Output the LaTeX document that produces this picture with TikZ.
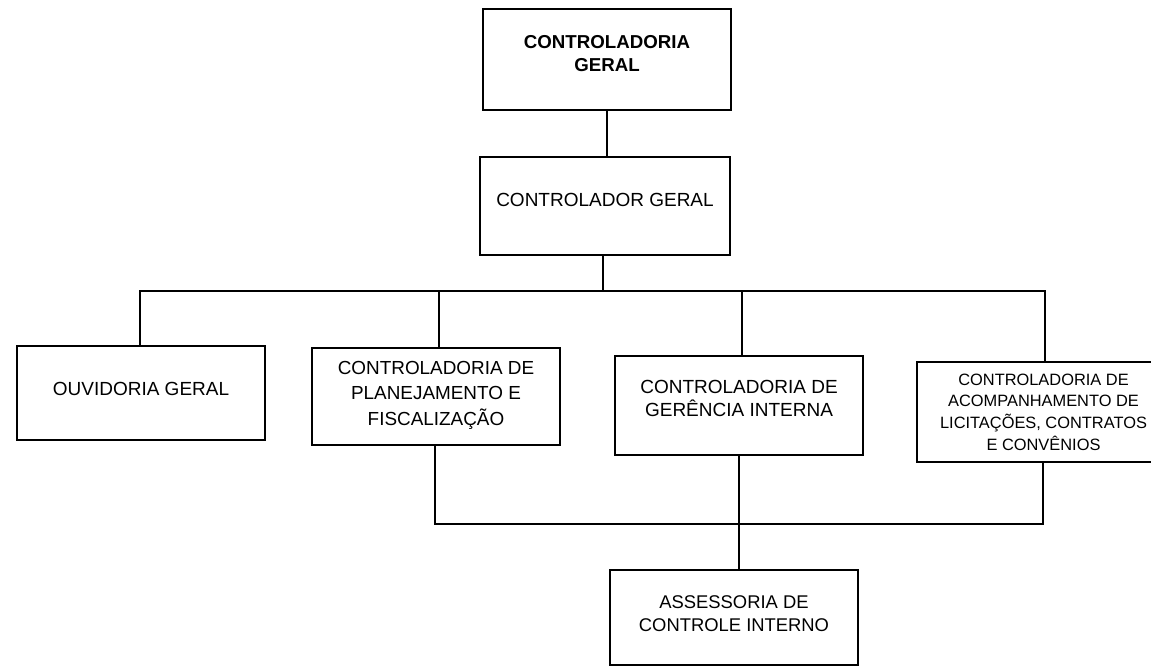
\documentclass[tikz,border=0pt]{standalone}
\usepackage{fontspec}
\setmainfont{Liberation Sans}
\begin{document}
\begin{tikzpicture}[x=1pt,y=-1pt,
  box/.style={draw, line width=1.6pt, align=center, inner sep=0pt,
    font=\fontsize{19}{24}\selectfont},
  conn/.style={line width=1.6pt}]
\useasboundingbox (0,0) rectangle (1151,667);
\fill[white] (0,0) rectangle (1151,667);

\node[box, minimum width=248pt, minimum height=101pt,
  font=\bfseries\fontsize{18.7}{23.5}\selectfont, text depth=12pt] (cg) at (607,59.5) {CONTROLADORIA\\GERAL};
\node[box, minimum width=250pt, minimum height=98pt, text depth=12pt] (ctrl) at (605,206) {CONTROLADOR GERAL};
\node[box, minimum width=248pt, minimum height=94pt, text depth=8pt] (ouv) at (141,393) {OUVIDORIA GERAL};
\node[box, minimum width=248pt, minimum height=97pt,
  font=\fontsize{18.9}{25.5}\selectfont, text depth=7pt] (plan) at (436,396.5) {CONTROLADORIA DE\\PLANEJAMENTO E\\FISCALIZAÇÃO};
\node[box, minimum width=248pt, minimum height=99pt,
  font=\fontsize{19}{23}\selectfont, text depth=14pt] (ger) at (739,405.5) {CONTROLADORIA DE\\GERÊNCIA INTERNA};
\node[box, minimum width=253pt, minimum height=100pt,
  font=\fontsize{16.4}{21.7}\selectfont, text depth=0pt] (acomp) at (1043.5,412) {CONTROLADORIA DE\\ACOMPANHAMENTO DE\\LICITAÇÕES, CONTRATOS\\E CONVÊNIOS};
\node[box, minimum width=248pt, minimum height=95pt,
  font=\fontsize{18.4}{23}\selectfont, text depth=8pt] (ass) at (734,617.5) {ASSESSORIA DE\\CONTROLE INTERNO};

% upper links
\draw[conn] (cg.south) -- (cg.south |- ctrl.north);
\coordinate (bL) at (140,291);
\coordinate (bP) at (439,291);
\coordinate (bG) at (742,291);
\coordinate (bR) at (1045,291);
\coordinate (bC) at (603,291);
\draw[conn] (bC |- ctrl.south) -- (bC);
\draw[conn] (bL |- ouv.north) -- (bL) -- (bR) -- (bR |- acomp.north);
\draw[conn] (bP) -- (bP |- plan.north);
\draw[conn] (bG) -- (bG |- ger.north);

% lower links
\coordinate (lL) at (435,524);
\coordinate (lG) at (739,524);
\coordinate (lR) at (1043,524);
\draw[conn] (lL |- plan.south) -- (lL) -- (lR) -- (lR |- acomp.south);
\draw[conn] (lG |- ger.south) -- (lG |- ass.north);
\end{tikzpicture}
\end{document}
